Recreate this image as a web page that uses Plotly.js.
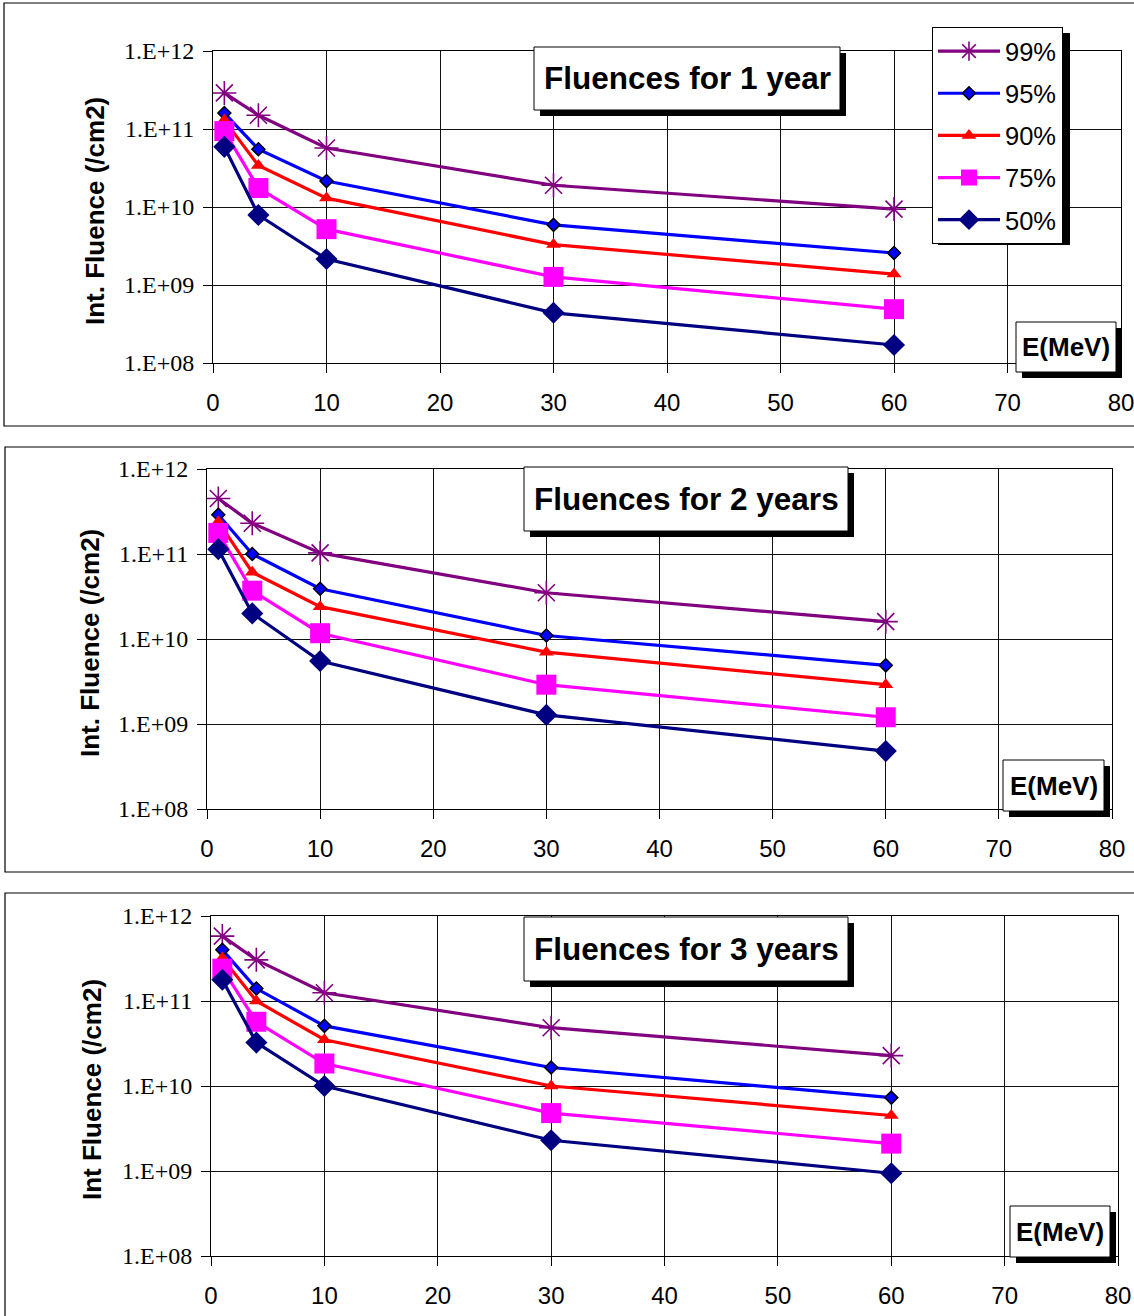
<!DOCTYPE html>
<html>
<head>
<meta charset="utf-8">
<script src="https://cdn.plot.ly/plotly-3.0.1.min.js"></script>
<style>html,body{margin:0;padding:0;background:#fff;}#chart{width:1134px;height:1316px;}</style>
</head>
<body>
<div id="chart"></div>
<script>
// ---- data ----
const energy = [1, 4, 10, 30, 60];
const seriesNames = ['99%', '95%', '90%', '75%', '50%'];
const yTickVals = [1e8, 1e9, 1e10, 1e11, 1e12];
const yTickText = ['1.E+08', '1.E+09', '1.E+10', '1.E+11', '1.E+12'];
const xTickVals = [0, 10, 20, 30, 40, 50, 60, 70, 80];

// 1 year
const y1_99 = [2.9e11, 1.5e11, 5.7e10, 1.9e10, 9.4e9];
const y1_95 = [1.6e11, 5.5e10, 2.15e10, 5.9e9, 2.57e9];
const y1_90 = [1.3e11, 3.4e10, 1.3e10, 3.3e9, 1.38e9];
const y1_75 = [9.4e10, 1.75e10, 5.2e9, 1.27e9, 4.9e8];
const y1_50 = [5.9e10, 7.9e9, 2.15e9, 4.4e8, 1.7e8];
// 2 years
const y2_99 = [4.5e11, 2.3e11, 1.03e11, 3.5e10, 1.6e10];
const y2_95 = [2.9e11, 1.0e11, 3.9e10, 1.1e10, 4.9e9];
const y2_90 = [2.4e11, 6.1e10, 2.4e10, 7.0e9, 2.9e9];
const y2_75 = [1.77e11, 3.7e10, 1.17e10, 2.9e9, 1.2e9];
const y2_50 = [1.14e11, 2.0e10, 5.5e9, 1.28e9, 4.8e8];
// 3 years
const y3_99 = [5.8e11, 3.05e11, 1.25e11, 4.85e10, 2.28e10];
const y3_95 = [4.0e11, 1.4e11, 5.1e10, 1.65e10, 7.3e9];
const y3_90 = [3.2e11, 1.0e11, 3.5e10, 1.0e10, 4.5e9];
const y3_75 = [2.4e11, 5.7e10, 1.84e10, 4.8e9, 2.1e9];
const y3_50 = [1.78e11, 3.24e10, 1.0e10, 2.3e9, 9.4e8];

const panelTitles = ['Fluences for 1 year', 'Fluences for 2 years', 'Fluences for 3 years'];
const yTitles = ['Int. Fluence (/cm2)', 'Int. Fluence (/cm2)', 'Int Fluence (/cm2)'];
const xUnit = 'E(MeV)';

// ---- styles ----
const W = 1134, H = 1316;
const fx = x => x / W;
const fy = y => 1 - y / H;
const styles = [
  {color: '#800080', marker: {symbol: 'asterisk-open', size: 20, color: '#800080', line: {color: '#800080', width: 1.6}}},
  {color: '#0000FF', marker: {symbol: 'diamond', size: 10, color: '#0000FF', line: {color: '#000000', width: 1.5}}},
  {color: '#FF0000', marker: {symbol: 'triangle-up', size: 13, color: '#FF0000', line: {width: 0}}},
  {color: '#FF00FF', marker: {symbol: 'square', size: 20, color: '#FF00FF', line: {width: 0}}},
  {color: '#000080', marker: {symbol: 'diamond', size: 17, color: '#000080', line: {width: 0}}}
];
const panelData = [
  [y1_99, y1_95, y1_90, y1_75, y1_50],
  [y2_99, y2_95, y2_90, y2_75, y2_50],
  [y3_99, y3_95, y3_90, y3_75, y3_50]
];

const traces = [];
panelData.forEach((set, p) => {
  set.forEach((vals, i) => {
    traces.push({
      x: energy, y: vals, type: 'scatter', mode: 'lines+markers',
      name: seriesNames[i],
      legendgroup: 'g' + i,
      showlegend: p === 0,
      xaxis: p === 0 ? 'x' : 'x' + (p + 1),
      yaxis: p === 0 ? 'y' : 'y' + (p + 1),
      line: {color: styles[i].color, width: 3.2},
      marker: styles[i].marker,
      cliponaxis: false
    });
  });
});

// panel geometry in pixels
const panels = [
  {l: 213, r: 1121, t: 51, b: 363, frame: [4, 3, 1140, 426],
   tbox: [534, 47, 840, 110], ebox: [1016, 322, 1116, 372], ytx: 95, yty: 211},
  {l: 207, r: 1112, t: 469, b: 809, frame: [5, 447, 1140, 872],
   tbox: [524, 467, 848, 531], ebox: [1003, 760, 1104, 811], ytx: 90, yty: 643},
  {l: 211, r: 1118, t: 916, b: 1256, frame: [5, 893, 1140, 1330],
   tbox: [524, 917, 848, 981], ebox: [1010, 1206, 1110, 1257], ytx: 92, yty: 1090}
];

const serif = 'Liberation Serif, Times New Roman, serif';
const sans = 'Liberation Sans, Arial, sans-serif';

const layout = {
  width: W, height: H, autosize: false,
  margin: {l: 0, r: 0, t: 0, b: 0},
  paper_bgcolor: '#ffffff', plot_bgcolor: '#ffffff',
  showlegend: true,
  legend: {
    x: fx(932), y: fy(27), xanchor: 'left', yanchor: 'top',
    bgcolor: '#ffffff', bordercolor: '#000000', borderwidth: 1,
    font: {family: sans, size: 25.5, color: '#000'},
    tracegroupgap: 6, itemwidth: 62,
    traceorder: 'grouped'
  },
  shapes: [], annotations: []
};

panels.forEach((P, p) => {
  const xa = p === 0 ? 'xaxis' : 'xaxis' + (p + 1);
  const ya = p === 0 ? 'yaxis' : 'yaxis' + (p + 1);
  layout[xa] = {
    domain: [fx(P.l), fx(P.r)], range: [0, 80], tickvals: xTickVals,
    anchor: p === 0 ? 'y' : 'y' + (p + 1),
    showgrid: true, gridcolor: '#111', gridwidth: 1,
    showline: true, linecolor: '#000', linewidth: 1, mirror: true,
    ticks: 'outside', ticklen: 9, tickcolor: '#000', ticklabelstandoff: 9,
    ticklabeloverflow: 'allow',
    tickfont: {family: sans, size: 24, color: '#000'},
    zeroline: false, fixedrange: true
  };
  layout[ya] = {
    domain: [fy(P.b), fy(P.t)], type: 'log', range: [8, 12],
    anchor: p === 0 ? 'x' : 'x' + (p + 1),
    tickvals: yTickVals, ticktext: yTickText,
    showgrid: true, gridcolor: '#111', gridwidth: 1,
    showline: true, linecolor: '#000', linewidth: 1, mirror: true,
    ticks: 'outside', ticklen: 9, tickcolor: '#000', ticklabelstandoff: 4,
    tickfont: {family: serif, size: 24, color: '#000'},
    zeroline: false, fixedrange: true
  };
  // panel frame
  layout.shapes.push({type: 'rect', xref: 'paper', yref: 'paper', layer: 'below',
    x0: fx(P.frame[0]), y0: fy(P.frame[1]), x1: fx(P.frame[2]), y1: fy(P.frame[3]),
    line: {color: '#000', width: 1.2}, fillcolor: 'rgba(0,0,0,0)'});
  // title box with shadow
  const addBox = (b, off) => {
    layout.shapes.push({type: 'rect', xref: 'paper', yref: 'paper', layer: 'above',
      x0: fx(b[0] + off), y0: fy(b[1] + off), x1: fx(b[2] + off), y1: fy(b[3] + off),
      line: {width: 0}, fillcolor: '#000'});
    layout.shapes.push({type: 'rect', xref: 'paper', yref: 'paper', layer: 'above',
      x0: fx(b[0]), y0: fy(b[1]), x1: fx(b[2]), y1: fy(b[3]),
      line: {color: '#000', width: 1}, fillcolor: '#fff'});
  };
  addBox(P.tbox, 6);
  addBox(P.ebox, 6);
  layout.annotations.push({xref: 'paper', yref: 'paper', showarrow: false,
    x: fx((P.tbox[0] + P.tbox[2]) / 2), y: fy((P.tbox[1] + P.tbox[3]) / 2),
    xanchor: 'center', yanchor: 'middle',
    text: '<b>' + panelTitles[p] + '</b>', font: {family: sans, size: 31.5, color: '#000'}});
  layout.annotations.push({xref: 'paper', yref: 'paper', showarrow: false,
    x: fx((P.ebox[0] + P.ebox[2]) / 2), y: fy((P.ebox[1] + P.ebox[3]) / 2),
    xanchor: 'center', yanchor: 'middle',
    text: '<b>' + xUnit + '</b>', font: {family: sans, size: 26, color: '#000'}});
  layout.annotations.push({xref: 'paper', yref: 'paper', showarrow: false,
    x: fx(P.ytx), y: fy(P.yty), xanchor: 'center', yanchor: 'middle', textangle: -90,
    text: '<b>' + yTitles[p] + '</b>', font: {family: sans, size: 26, color: '#000'}});
});
// legend shadow
layout.shapes.push({type: 'rect', xref: 'paper', yref: 'paper', layer: 'above',
  x0: fx(938), y0: fy(33), x1: fx(1070), y1: fy(245), line: {width: 0}, fillcolor: '#000'});

Plotly.newPlot('chart', traces, layout, {displayModeBar: false, staticPlot: true});
</script>
</body>
</html>
